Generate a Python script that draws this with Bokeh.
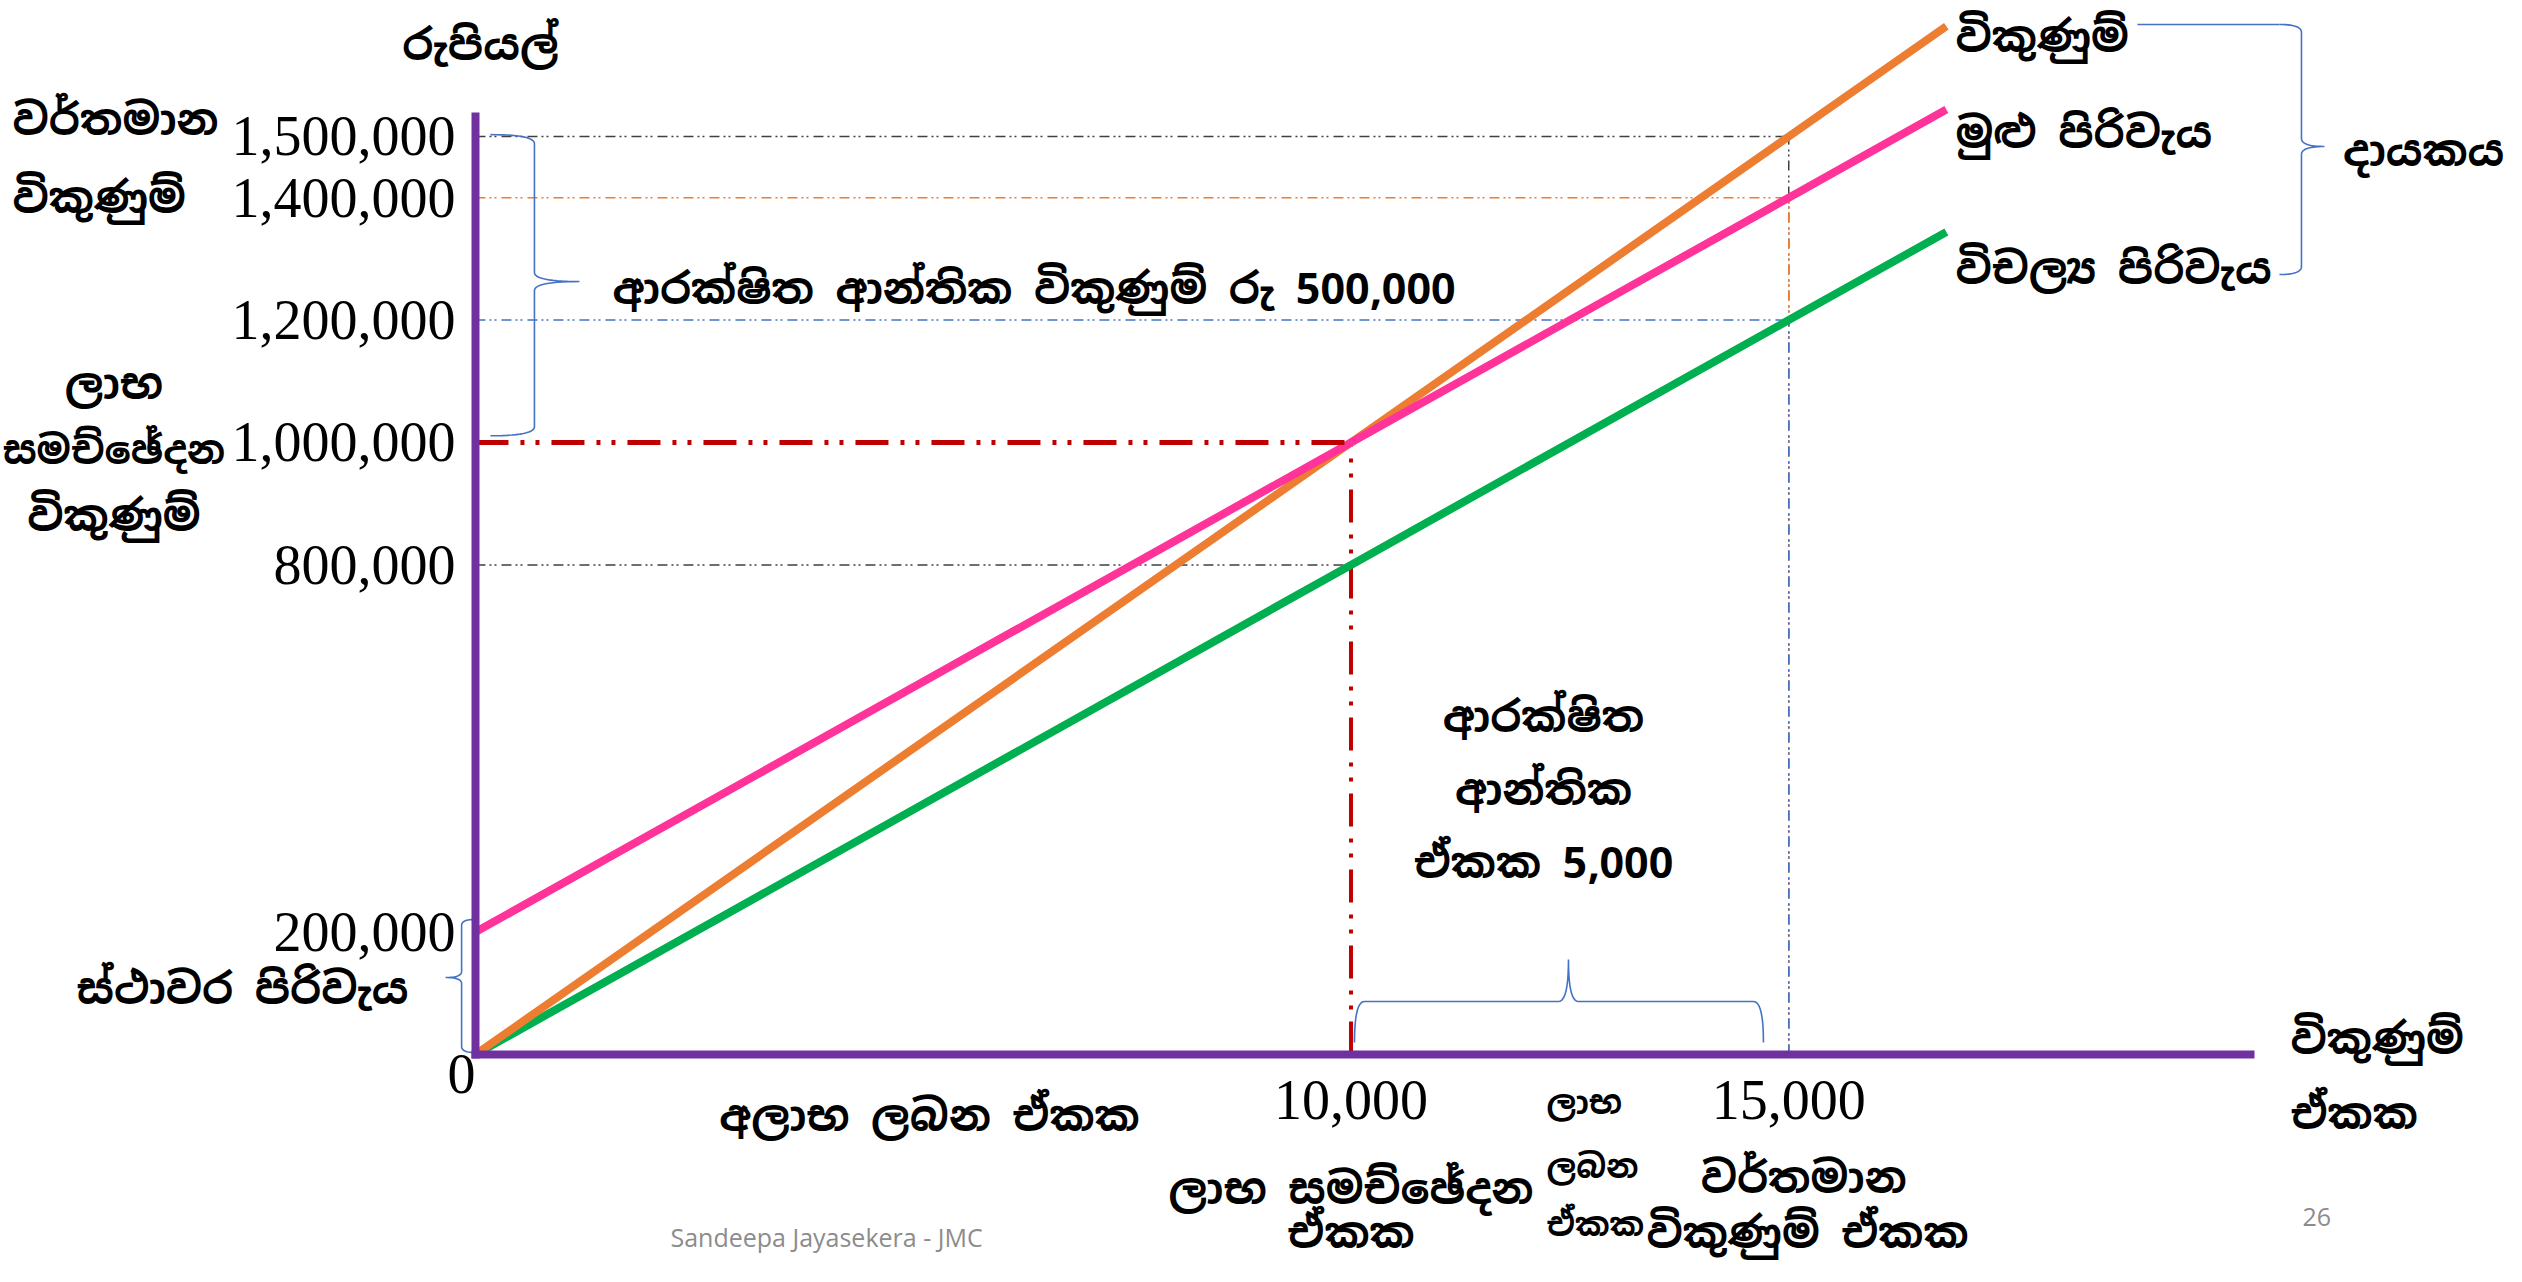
from bokeh.plotting import figure
from bokeh.models import FixedTicker, NumeralTickFormatter, Range1d
from bokeh.core.properties import value
from bokeh.embed import file_html
from bokeh.resources import INLINE

# ---------------- data ----------------
units = [0, 10000, 15000, 16800]                    # units sold
sales = [0, 1000000, 1500000, 1680000]              # sales revenue (Rs)
total_cost = [200000, 1000000, 1400000, 1544000]    # total cost (Rs)
variable_cost = [0, 800000, 1200000, 1344000]       # variable cost (Rs)

y_ticks = [200000, 800000, 1000000, 1200000, 1400000, 1500000]
x_ticks = [10000, 15000]

# ---------------- styles ----------------
PURPLE = "#7030A0"
ORANGE = "#ED7D31"
PINK = "#FF3399"
GREEN = "#00B050"
RED = "#C00000"
BLUE = "#4472C4"
DARK = "#404040"
SIN = "Noto Sans Sinhala"
SERIF = "Liberation Serif"
BIG = "43px"
SMALL = "33px"

W, H = 2506, 1266
X0, X1 = -5425, 23198
Y0, Y1 = -346400, 1722200
SX = W / (X1 - X0)   # px per unit
SY = H / (Y1 - Y0)   # px per rupee

p = figure(width=W, height=H, x_range=Range1d(X0, X1), y_range=Range1d(Y0, Y1),
           output_backend="svg", toolbar_location=None, min_border=0,
           outline_line_color=None, background_fill_color="white",
           border_fill_color="white")
p.grid.visible = False

for ax in (p.xaxis[0], p.yaxis[0]):
    ax.fixed_location = 0
    ax.axis_line_color = PURPLE
    ax.axis_line_width = 8
    ax.major_tick_line_color = None
    ax.minor_tick_line_color = None
    ax.major_tick_in = 0
    ax.major_tick_out = 0
    ax.formatter = NumeralTickFormatter(format="0,0")
    ax.major_label_text_font = SERIF
    ax.major_label_text_font_size = "56px"
    ax.major_label_text_color = "black"

ya = p.yaxis[0]
ya.ticker = FixedTicker(ticks=y_ticks)
ya.bounds = (-6500, 1539000)
ya.major_label_standoff = 20

xa = p.xaxis[0]
xa.ticker = FixedTicker(ticks=x_ticks)
xa.bounds = (-45, 20320)
xa.major_label_standoff = 26

# ---------------- guide lines ----------------
thin_dash = "10 4 2 3 2 5"
# black: current sales level and BEP variable cost level
p.segment(x0=[0, 0, units[2]], y0=[sales[2], variable_cost[1], 0],
          x1=[units[2], units[1], units[2]], y1=[sales[2], variable_cost[1], sales[2]],
          line_color=DARK, line_width=1.5, line_dash=thin_dash)
# orange: current total cost
p.segment(x0=[0, units[2]], y0=[total_cost[2], 0], x1=[units[2], units[2]],
          y1=[total_cost[2], total_cost[2]], line_color=ORANGE, line_width=1.5,
          line_dash=thin_dash)
# blue: current variable cost
p.segment(x0=[0, units[2]], y0=[variable_cost[2], 0], x1=[units[2], units[2]],
          y1=[variable_cost[2], variable_cost[2]], line_color=BLUE, line_width=1.5,
          line_dash=thin_dash)
# red: break-even point (vertical)
p.segment(x0=[units[1]], y0=[0], x1=[units[1]], y1=[sales[1]],
          line_color=RED, line_width=4, line_dash="33 12 4 11 4 12")

# ---------------- main lines ----------------
p.line(units, variable_cost, line_color=GREEN, line_width=8)
p.line(units, sales, line_color=ORANGE, line_width=8)
p.line(units, total_cost, line_color=PINK, line_width=8)

# red: break-even point (horizontal)
p.segment(x0=[0], y0=[sales[1]], x1=[units[1]], y1=[sales[1]],
          line_color=RED, line_width=5, line_dash="33 12 4 11 4 12")


# ---------------- braces ----------------
def _quad(p0, c, p1, n=14):
    pts = []
    for i in range(n + 1):
        t = i / n
        u = (1 - t) ** 2 * p0[0] + 2 * (1 - t) * t * c[0] + t ** 2 * p1[0]
        v = (1 - t) ** 2 * p0[1] + 2 * (1 - t) * t * c[1] + t ** 2 * p1[1]
        pts.append((u, v))
    return pts


def _brace_local(L, um, a, t, r):
    pts = []
    pts += _quad((0, 0), (0, a), (r, a))
    pts += _quad((um - r, a), (um, a), (um, a + t))
    pts += _quad((um, a + t), (um, a), (um + r, a))
    pts += _quad((L - r, a), (L, a), (L, 0))
    return pts


def vbrace(x_arm, y_top, y_bot, y_tip, a, t, r, direction):
    L = (y_top - y_bot) * SY
    um = (y_top - y_tip) * SY
    pts = _brace_local(L, um, a, t, r)
    xs = [x_arm + direction * v / SX for u, v in pts]
    ys = [y_top - u / SY for u, v in pts]
    p.line(xs, ys, line_color=BLUE, line_width=1.6)


def hbrace(y_arm, x_left, x_right, x_tip, a, t, r, direction):
    L = (x_right - x_left) * SX
    um = (x_tip - x_left) * SX
    pts = _brace_local(L, um, a, t, r)
    xs = [x_left + u / SX for u, v in pts]
    ys = [y_arm + direction * v / SY for u, v in pts]
    p.line(xs, ys, line_color=BLUE, line_width=1.6)


# margin of safety in sales (between BEP sales and current sales)
vbrace(171, 1503000, 1011000, 1263000, 44, 45, 9, +1)
# fixed cost
vbrace(-10, 220600, 3300, 125800, 13, 16, 6, -1)
# margin of safety in units
hbrace(19600, 10040, 14711, 12484, 41, 42, 10, +1)
# contribution brace on the right
vbrace(20605, 1683000, 1274500, 1483700, 22, 23, 8, +1)
p.line([18983, 20605], [1683000, 1683000], line_color=BLUE, line_width=1.6)


# ---------------- texts ----------------
def label(x, y, text, size=BIG, align="center", font=SIN, color="black",
          baseline="middle", style="bold", dy=6):
    p.text(x=[x], y=[y], text=[text], text_font=value(font),
           text_font_size=size, text_align=align, text_baseline=baseline,
           text_color=color, text_font_style=style, y_offset=dy)


label(57, 1658500, "රුපියල්")
label(-5288, 1536000, "වර්තමාන", align="left")
label(-5288, 1410000, "විකුණුම්", align="left")
label(-4130, 1106000, "ලාභ")
label(-4130, 997000, "සමච්ඡේදන", size="39px")
label(-4130, 890000, "විකුණුම්")
label(-2661, 117600, "ස්ථාවර පිරිවැය")
label(1565, 1261400, "ආරක්ෂිත ආන්තික විකුණුම් රු 500,000", align="left")
label(12199, 560500, "ආරක්ෂිත")
label(12199, 441200, "ආන්තික")
label(12199, 321900, "ඒකක 5,000")
label(5186, -89900, "අලාභ ලබන ඒකක")
label(units[1], -209150, "ලාභ සමච්ඡේදන")
label(units[1], -282000, "ඒකක")
label(12233, -68600, "ලාභ", size=SMALL, align="left")
label(12233, -173200, "ලබන", size=SMALL, align="left")
label(12233, -268000, "ඒකක", size=SMALL, align="left")
label(15170, -192800, "වර්තමාන")
label(15214, -282000, "විකුණුම් ඒකක")
label(16905, 1673000, "විකුණුම්", align="left")
label(16905, 1516300, "මුළු පිරිවැය", align="left")
label(16905, 1294100, "විචල්‍ය පිරිවැය", align="left")
label(21330, 1485300, "දායකය", align="left")
label(20731, 35900, "විකුණුම්", align="left")
label(20731, -86600, "ඒකක", align="left")
label(0, 0, "0", size="56px", font=SERIF, align="right", baseline="top",
      style="normal", dy=0)
label(2227, -297400, "Sandeepa Jayasekera - JMC", size="25px", align="left",
      font="Open Sans", color="#8C8C8C", style="normal", dy=0)
label(20868, -266300, "26", size="25px", align="left", font="Open Sans",
      color="#8C8C8C", style="normal", dy=0)

open("out.html", "w").write(file_html(p, INLINE))
